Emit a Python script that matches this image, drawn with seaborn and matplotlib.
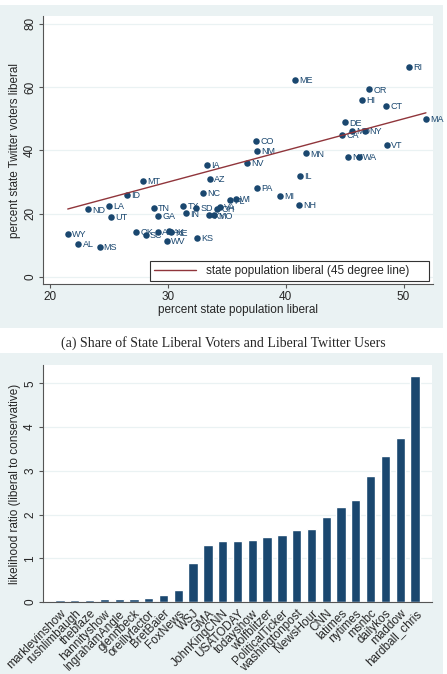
import matplotlib
matplotlib.use("Agg")
import matplotlib.pyplot as plt
from matplotlib.patches import Rectangle
import pandas as pd
import seaborn as sns

# state shares (percent liberal)
states = ['RI', 'ME', 'OR', 'HI', 'CT', 'MA', 'DE', 'MD', 'NY', 'CA',
          'VT', 'CO', 'NM', 'MN', 'NJ', 'WA', 'NV', 'IL', 'PA', 'MI',
          'NH', 'IA', 'MT', 'AZ', 'ID', 'NC', 'TN', 'TX', 'SD', 'IN',
          'GA', 'VA', 'OH', 'FL', 'WI', 'MO', 'KY', 'OK', 'SC', 'AR',
          'AK', 'NE', 'WV', 'KS', 'WY', 'AL', 'MS', 'ND', 'LA', 'UT']
pop_liberal = [50.5, 40.8, 47.1, 46.5, 48.5, 51.9, 45.0, 45.6, 46.7, 44.8,
               48.6, 37.5, 37.6, 41.7, 45.3, 46.2, 36.7, 41.2, 37.6, 39.5,
               41.1, 33.3, 27.9, 33.6, 26.5, 33.0, 28.8, 31.3, 32.4, 31.55,
               29.15, 34.4, 34.2, 35.3, 35.8, 33.9, 33.5, 27.3, 28.1, 29.15,
               30.1, 30.25, 29.9, 32.5, 21.5, 22.4, 24.2, 23.2, 25.0, 25.2]
twitter_liberal = [66.4, 62.2, 59.3, 55.9, 54.2, 50.1, 48.9, 46.2, 46.1, 44.9,
                   41.8, 42.9, 39.9, 39.1, 37.9, 37.9, 36.0, 32.0, 28.1, 25.6,
                   22.7, 35.5, 30.3, 31.1, 26.0, 26.5, 21.9, 22.6, 21.8, 20.1,
                   19.4, 22.2, 21.5, 24.2, 24.7, 19.5, 19.5, 14.2, 13.4, 14.2,
                   14.4, 14.1, 11.4, 12.3, 13.6, 10.4, 9.6, 21.4, 22.6, 19.1]

# twitter accounts and likelihood ratios
accounts = ['marklevinshow', 'rushlimbaugh', 'theblaze', 'hannityshow',
            'IngrahamAngle', 'glennbeck', 'oreillyfactor', 'BretBaier',
            'FoxNews', 'WSJ', 'GMA', 'JohnKingCNN', 'USATODAY', 'todayshow',
            'wolfblitzer', 'PoliticalTicker', 'washingtonpost', 'NewsHour',
            'CNN', 'latimes', 'nytimes', 'msnbc', 'dailykos', 'maddow',
            'hardball_chris']
likelihood_ratio = [0.04, 0.05, 0.05, 0.06, 0.06, 0.08, 0.10, 0.17, 0.28,
                    0.885, 1.30, 1.40, 1.40, 1.41, 1.48, 1.53, 1.65, 1.68,
                    1.945, 2.17, 2.33, 2.89, 3.35, 3.76, 5.16]

NAVY = '#1a476f'
MAROON = '#90353b'
BLUISH = '#eaf2f3'
AXIS = '#555555'

sns.set_style('ticks')
plt.rcParams['font.family'] = ['Liberation Sans', 'DejaVu Sans']

W, H = 447, 674
fig = plt.figure(figsize=(W / 100, H / 100), dpi=100)


def box(l, t, r, b):
    return [l / W, 1 - b / H, (r - l) / W, (b - t) / H]


for l, t, r, b in [(0, 5, 443, 328), (0, 353, 443, 674)]:
    fig.add_artist(Rectangle((l / W, 1 - b / H), (r - l) / W, (b - t) / H,
                             transform=fig.transFigure, facecolor=BLUISH,
                             edgecolor='none', zorder=-10))


def style_axes(ax):
    sns.despine(ax=ax)
    ax.set_facecolor('white')
    for s in ['left', 'bottom']:
        ax.spines[s].set_color(AXIS)
        ax.spines[s].set_linewidth(0.8)
    ax.yaxis.grid(True, color=BLUISH, lw=0.9)
    ax.set_axisbelow(True)
    ax.tick_params(axis='y', labelrotation=90, length=3, width=0.8,
                   color=AXIS, labelsize=8.5, pad=2)
    for lbl in ax.get_yticklabels():
        lbl.set_va('center')


# ---- top: scatter
ax1 = fig.add_axes(box(43, 16, 433, 284))
df = pd.DataFrame({'state': states, 'pop': pop_liberal, 'tw': twitter_liberal})
sns.scatterplot(data=df, x='pop', y='tw', color=NAVY, s=22, linewidth=0,
                ax=ax1, zorder=3)
for st, x, y in zip(states, pop_liberal, twitter_liberal):
    ax1.annotate(st, (x, y), xytext=(3, -0.5), textcoords='offset points',
                 fontsize=6.5, color=NAVY, va='center', ha='left')
lo, hi = min(pop_liberal), max(pop_liberal)
line_df = pd.DataFrame({'x': [lo, hi], 'y': [lo, hi]})
sns.lineplot(data=line_df, x='x', y='y', color=MAROON, lw=1, ax=ax1,
             label='state population liberal (45 degree line)', zorder=4)
ax1.set_xlim(19.4, 52.5)
ax1.set_ylim(-2.2, 82.5)
ax1.set_xticks([20, 30, 40, 50])
ax1.set_yticks([0, 20, 40, 60, 80])
style_axes(ax1)
ax1.tick_params(axis='x', length=3, width=0.8, color=AXIS, labelsize=8.5, pad=2)
ax1.set_xlabel('percent state population liberal', fontsize=8.5, labelpad=1)
ax1.set_ylabel('percent state Twitter voters liberal', fontsize=8.5, labelpad=2)
leg = ax1.legend(loc='lower left', bbox_to_anchor=(0.274, 0.011, 0.716, 0.08),
                 mode='expand', borderaxespad=0, fancybox=False,
                 edgecolor='#333333', framealpha=1, fontsize=8.5,
                 handlelength=3.6, borderpad=0.35)
leg.get_frame().set_linewidth(0.8)

fig.text(0.5, 1 - 343 / H,
         '(a) Share of State Liberal Voters and Liberal Twitter Users',
         family='Liberation Serif', fontsize=10, ha='center', va='center')

# ---- bottom: bars
ax2 = fig.add_axes(box(43, 365, 432, 602))
sns.barplot(x=accounts, y=likelihood_ratio, color=NAVY, saturation=1,
            width=0.63, ax=ax2)
ax2.set_xlim(-1.15, 25.15)
ax2.set_ylim(0, 5.42)
ax2.set_yticks([0, 1, 2, 3, 4, 5])
style_axes(ax2)
ax2.tick_params(axis='x', length=0, pad=4, labelsize=8.5)
for lbl in ax2.get_xticklabels():
    lbl.set_rotation(45)
    lbl.set_ha('right')
    lbl.set_rotation_mode('anchor')
ax2.set_xlabel('')
ax2.set_ylabel('likelihood ratio (liberal to conservative)', fontsize=8.5,
               labelpad=2)

fig.savefig('out.png', dpi=100)
